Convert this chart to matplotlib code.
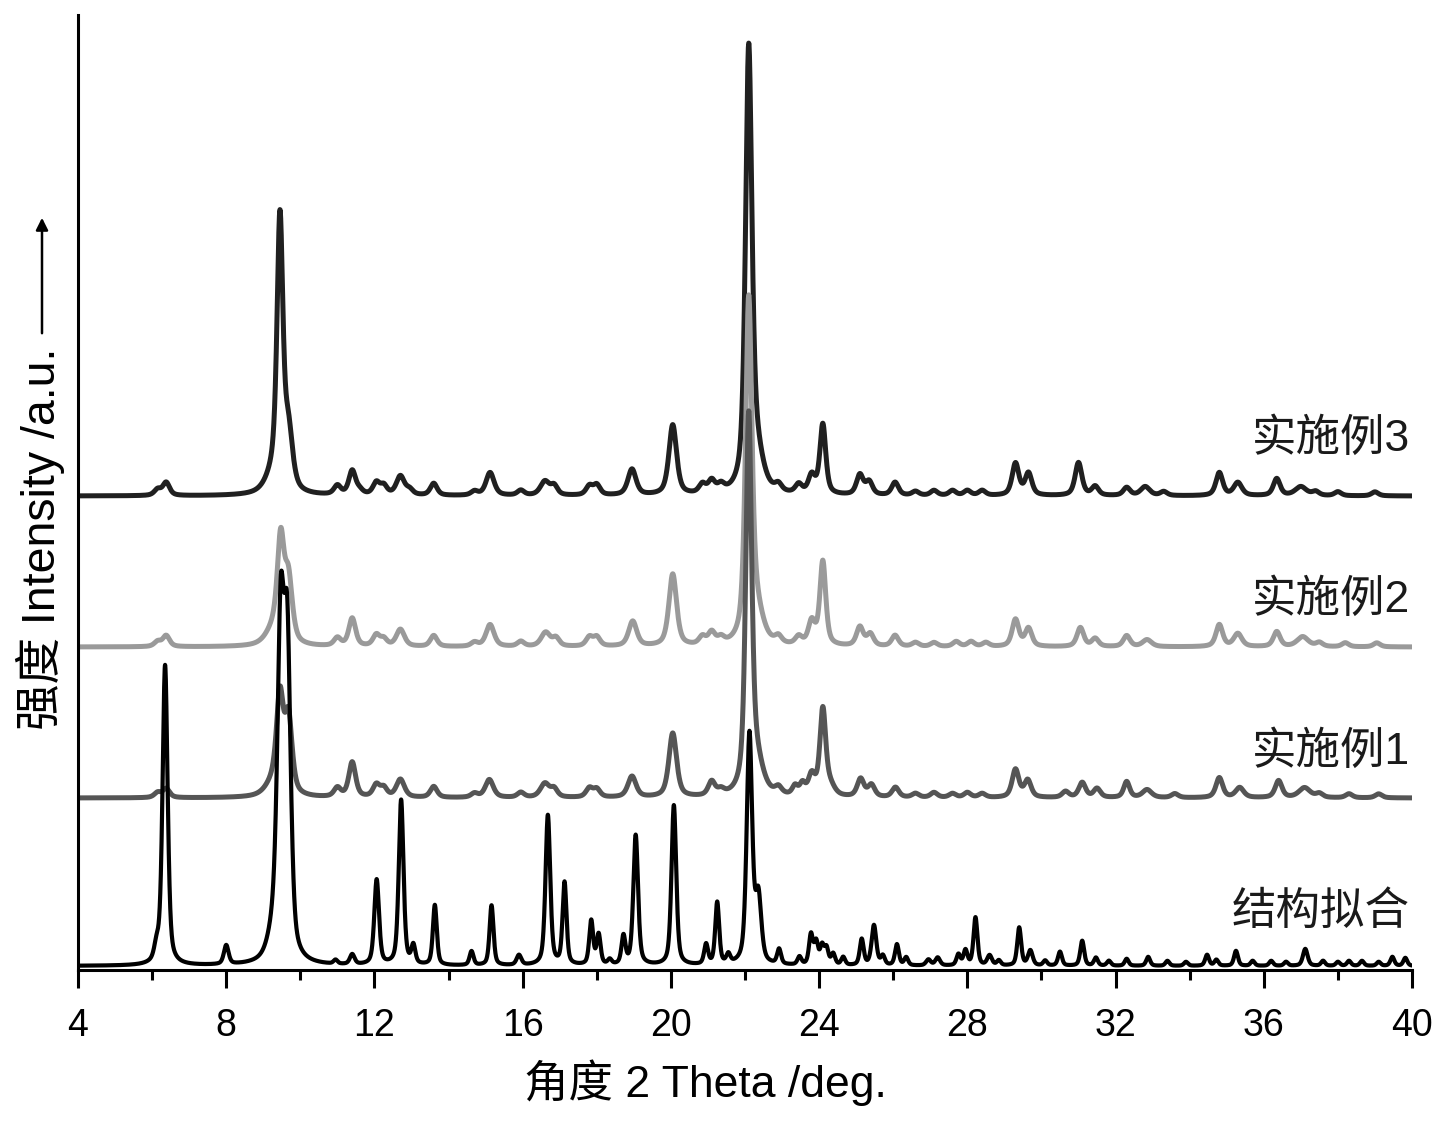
import numpy as np
import matplotlib
matplotlib.use("Agg")
import matplotlib.pyplot as plt

plt.rcParams['font.family'] = ['Liberation Sans', 'Noto Sans CJK SC', 'DejaVu Sans']

# peak lists: (2theta, height, fwhm), heights in a.u.
sim_peaks = [(6.12, 14, 0.12), (6.35, 300, 0.13), (8.0, 19, 0.12),
             (9.3, 25, 0.3), (9.47, 315, 0.17), (9.65, 300, 0.17),
             (10.95, 4, 0.1), (11.4, 10, 0.12), (12.06, 85, 0.12),
             (12.72, 165, 0.12), (13.05, 18, 0.1), (13.63, 60, 0.1),
             (14.62, 14, 0.1), (15.16, 60, 0.1), (15.9, 10, 0.12),
             (16.68, 150, 0.12), (17.13, 82, 0.1), (17.85, 44, 0.1),
             (18.05, 30, 0.1), (18.35, 5, 0.1), (18.72, 28, 0.1),
             (19.05, 130, 0.12), (20.08, 160, 0.12), (20.95, 20, 0.1),
             (21.25, 62, 0.1), (21.55, 9, 0.1), (22.12, 230, 0.14),
             (22.36, 65, 0.15), (22.92, 15, 0.1), (23.47, 8, 0.1),
             (23.78, 30, 0.1), (23.92, 22, 0.1), (24.08, 18, 0.1),
             (24.2, 16, 0.1), (24.38, 11, 0.1), (24.65, 8, 0.1),
             (25.15, 26, 0.1), (25.48, 40, 0.12), (25.72, 9, 0.1),
             (26.1, 21, 0.1), (26.35, 8, 0.1), (26.95, 6, 0.12),
             (27.2, 8, 0.12), (27.76, 11, 0.1), (27.95, 15, 0.1),
             (28.22, 48, 0.1), (28.6, 10, 0.12), (28.85, 5, 0.1),
             (29.4, 38, 0.1), (29.7, 15, 0.12), (30.1, 5, 0.1),
             (30.5, 14, 0.1), (31.1, 25, 0.1), (31.47, 8, 0.1),
             (31.82, 5, 0.1), (32.3, 7, 0.1), (32.88, 9, 0.1),
             (33.4, 5, 0.1), (33.9, 4, 0.1), (34.47, 11, 0.1),
             (34.72, 6, 0.1), (35.25, 15, 0.1), (35.7, 5, 0.1),
             (36.2, 5, 0.1), (36.6, 4, 0.1), (37.12, 17, 0.12),
             (37.6, 5, 0.1), (38.0, 4, 0.1), (38.3, 5, 0.1),
             (38.65, 5, 0.1), (39.1, 4, 0.1), (39.47, 9, 0.1),
             (39.82, 8, 0.1)]

ex1_peaks = [(6.15, 5, 0.15), (6.38, 9, 0.15), (9.3, 14, 0.35),
             (9.45, 90, 0.15), (9.68, 75, 0.16), (11.0, 9, 0.15),
             (11.4, 35, 0.15), (12.05, 12, 0.15), (12.25, 9, 0.15),
             (12.7, 18, 0.18), (13.6, 11, 0.15), (14.7, 4, 0.15),
             (15.1, 18, 0.18), (15.95, 5, 0.15), (16.6, 14, 0.2),
             (16.85, 8, 0.15), (17.8, 9, 0.15), (18.0, 8, 0.15),
             (18.95, 21, 0.18), (20.05, 64, 0.17), (21.1, 14, 0.15),
             (21.35, 5, 0.15), (22.1, 370, 0.13), (22.3, 30, 0.3),
             (22.9, 7, 0.15), (23.35, 9, 0.12), (23.55, 11, 0.12),
             (23.8, 20, 0.15), (24.1, 86, 0.13), (24.3, 9, 0.2),
             (25.12, 18, 0.15), (25.41, 12, 0.15), (26.06, 10, 0.15),
             (26.6, 4, 0.15), (27.1, 5, 0.15), (27.6, 4, 0.15),
             (28.0, 5, 0.15), (28.4, 4, 0.15), (29.3, 28, 0.15),
             (29.63, 17, 0.15), (30.65, 6, 0.15), (31.1, 15, 0.15),
             (31.5, 9, 0.15), (32.3, 16, 0.13), (32.85, 8, 0.2),
             (33.6, 4, 0.15), (34.8, 20, 0.15), (35.35, 10, 0.18),
             (36.4, 17, 0.15), (37.1, 10, 0.25), (37.5, 4, 0.15),
             (38.3, 4, 0.15), (39.1, 4, 0.15)]

ex2_peaks = [(6.15, 5, 0.15), (6.38, 11, 0.15), (9.3, 16, 0.35),
             (9.47, 95, 0.15), (9.68, 62, 0.17), (11.0, 8, 0.15),
             (11.4, 28, 0.15), (12.05, 11, 0.15), (12.25, 7, 0.15),
             (12.7, 17, 0.18), (13.6, 11, 0.15), (14.7, 4, 0.15),
             (15.12, 22, 0.18), (15.95, 5, 0.15), (16.62, 14, 0.2),
             (16.9, 8, 0.15), (17.8, 9, 0.15), (18.0, 9, 0.15),
             (18.97, 25, 0.18), (20.05, 72, 0.17), (20.85, 8, 0.15),
             (21.1, 12, 0.15), (21.35, 6, 0.15), (22.1, 335, 0.14),
             (22.3, 30, 0.3), (22.9, 7, 0.15), (23.45, 8, 0.15),
             (23.8, 23, 0.15), (24.1, 84, 0.13), (25.1, 19, 0.15),
             (25.38, 12, 0.15), (26.05, 11, 0.15), (26.6, 4, 0.15),
             (27.1, 4, 0.15), (27.7, 5, 0.15), (28.1, 5, 0.15),
             (28.5, 4, 0.15), (29.3, 27, 0.15), (29.65, 18, 0.15),
             (31.05, 19, 0.15), (31.45, 8, 0.15), (32.3, 11, 0.15),
             (32.85, 7, 0.2), (34.8, 22, 0.15), (35.3, 13, 0.18),
             (36.35, 15, 0.15), (37.05, 10, 0.25), (37.5, 4, 0.15),
             (38.2, 4, 0.15), (39.05, 4, 0.15)]

ex3_peaks = [(6.15, 6, 0.15), (6.38, 13, 0.15), (9.3, 18, 0.35),
             (9.45, 262, 0.13), (9.68, 55, 0.18), (11.0, 9, 0.15),
             (11.4, 24, 0.15), (11.6, 4, 0.15), (12.05, 12, 0.15),
             (12.25, 9, 0.15), (12.7, 19, 0.18), (12.95, 5, 0.15),
             (13.6, 12, 0.15), (14.7, 4, 0.15), (15.12, 23, 0.18),
             (15.95, 5, 0.15), (16.6, 14, 0.2), (16.85, 9, 0.15),
             (17.8, 9, 0.15), (18.0, 10, 0.15), (18.95, 26, 0.18),
             (20.05, 70, 0.17), (20.85, 9, 0.15), (21.1, 12, 0.15),
             (21.35, 7, 0.15), (22.1, 433, 0.14), (22.3, 35, 0.3),
             (22.9, 7, 0.15), (23.45, 9, 0.15), (23.8, 18, 0.15),
             (24.1, 70, 0.13), (25.1, 20, 0.15), (25.35, 13, 0.15),
             (26.05, 13, 0.15), (26.6, 4, 0.15), (27.1, 5, 0.15),
             (27.6, 5, 0.15), (28.0, 5, 0.15), (28.4, 5, 0.15),
             (29.3, 32, 0.15), (29.65, 22, 0.15), (31.0, 33, 0.15),
             (31.45, 9, 0.15), (32.3, 8, 0.15), (32.8, 9, 0.2),
             (33.3, 4, 0.15), (34.8, 23, 0.15), (35.3, 13, 0.18),
             (36.35, 17, 0.15), (37.0, 9, 0.25), (37.4, 4, 0.15),
             (38.0, 4, 0.15), (39.0, 4, 0.15)]

names = ['结构拟合', '实施例1', '实施例2', '实施例3']
offsets = [4, 172, 323, 474]
colors = ['#000000', '#555555', '#9a9a9a', '#202020']
label_y = [58, 218, 370, 531]


def pattern(x, peaks, eta=0.5, wscale=1.0):
    y = np.zeros_like(x)
    for pos, h, w in peaks:
        d = (x - pos) / (w * wscale / 2)
        lor = 1 / (1 + d ** 2)
        gau = np.exp(-np.log(2) * d ** 2)
        y += h * (eta * lor + (1 - eta) * gau)
    return y


x = np.linspace(4, 40, 7201)

fig = plt.figure(figsize=(14.49, 11.28), dpi=100)
ax = fig.add_axes([78 / 1449, 1 - 970 / 1128, (1412 - 78) / 1449, (970 - 15) / 1128])

# drawing order: top traces first, simulated last
order = [3, 2, 1, 0]
all_peaks = [sim_peaks, ex1_peaks, ex2_peaks, ex3_peaks]
for i in order:
    if i == 0:
        y = offsets[i] + pattern(x, all_peaks[i], 0.5, 1.25)
        lw = 3.0
    else:
        y = offsets[i] + pattern(x, all_peaks[i], 0.6, 1.45)
        lw = 3.6
    ax.plot(x, y, color=colors[i], lw=lw, solid_joinstyle='round')
    ax.text(39.95, label_y[i], names[i], ha='right', va='center',
            fontsize=32, color='#1a1a1a')

ax.set_xlim(4, 40)
ax.set_ylim(0, 955)
ax.set_xticks(np.arange(4, 41, 4))
ax.set_xticks(np.arange(4, 41, 2), minor=True)
ax.set_yticks([])
ax.spines['top'].set_visible(False)
ax.spines['right'].set_visible(False)
ax.spines['left'].set_linewidth(2.2)
ax.spines['bottom'].set_linewidth(2.2)
ax.tick_params(axis='x', which='major', direction='out', length=13, width=2.2,
               labelsize=27, pad=14)
ax.tick_params(axis='x', which='minor', direction='out', length=7, width=2.2)

fig.text(705 / 1449, 1 - 1083 / 1128, '角度 2 Theta /deg.', ha='center',
         va='center', fontsize=32)

fig.text(40 / 1449, 1 - 730 / 1128, '强度 Intensity /a.u.', rotation=90,
         ha='center', va='bottom', fontsize=33.5)
fig.add_artist(matplotlib.patches.FancyArrowPatch(
    (42 / 1449, 1 - 336 / 1128), (42 / 1449, 1 - 215 / 1128),
    transform=fig.transFigure, arrowstyle='-|>', mutation_scale=18,
    lw=1.8, color='black'))

fig.savefig('out.png', dpi=100)
